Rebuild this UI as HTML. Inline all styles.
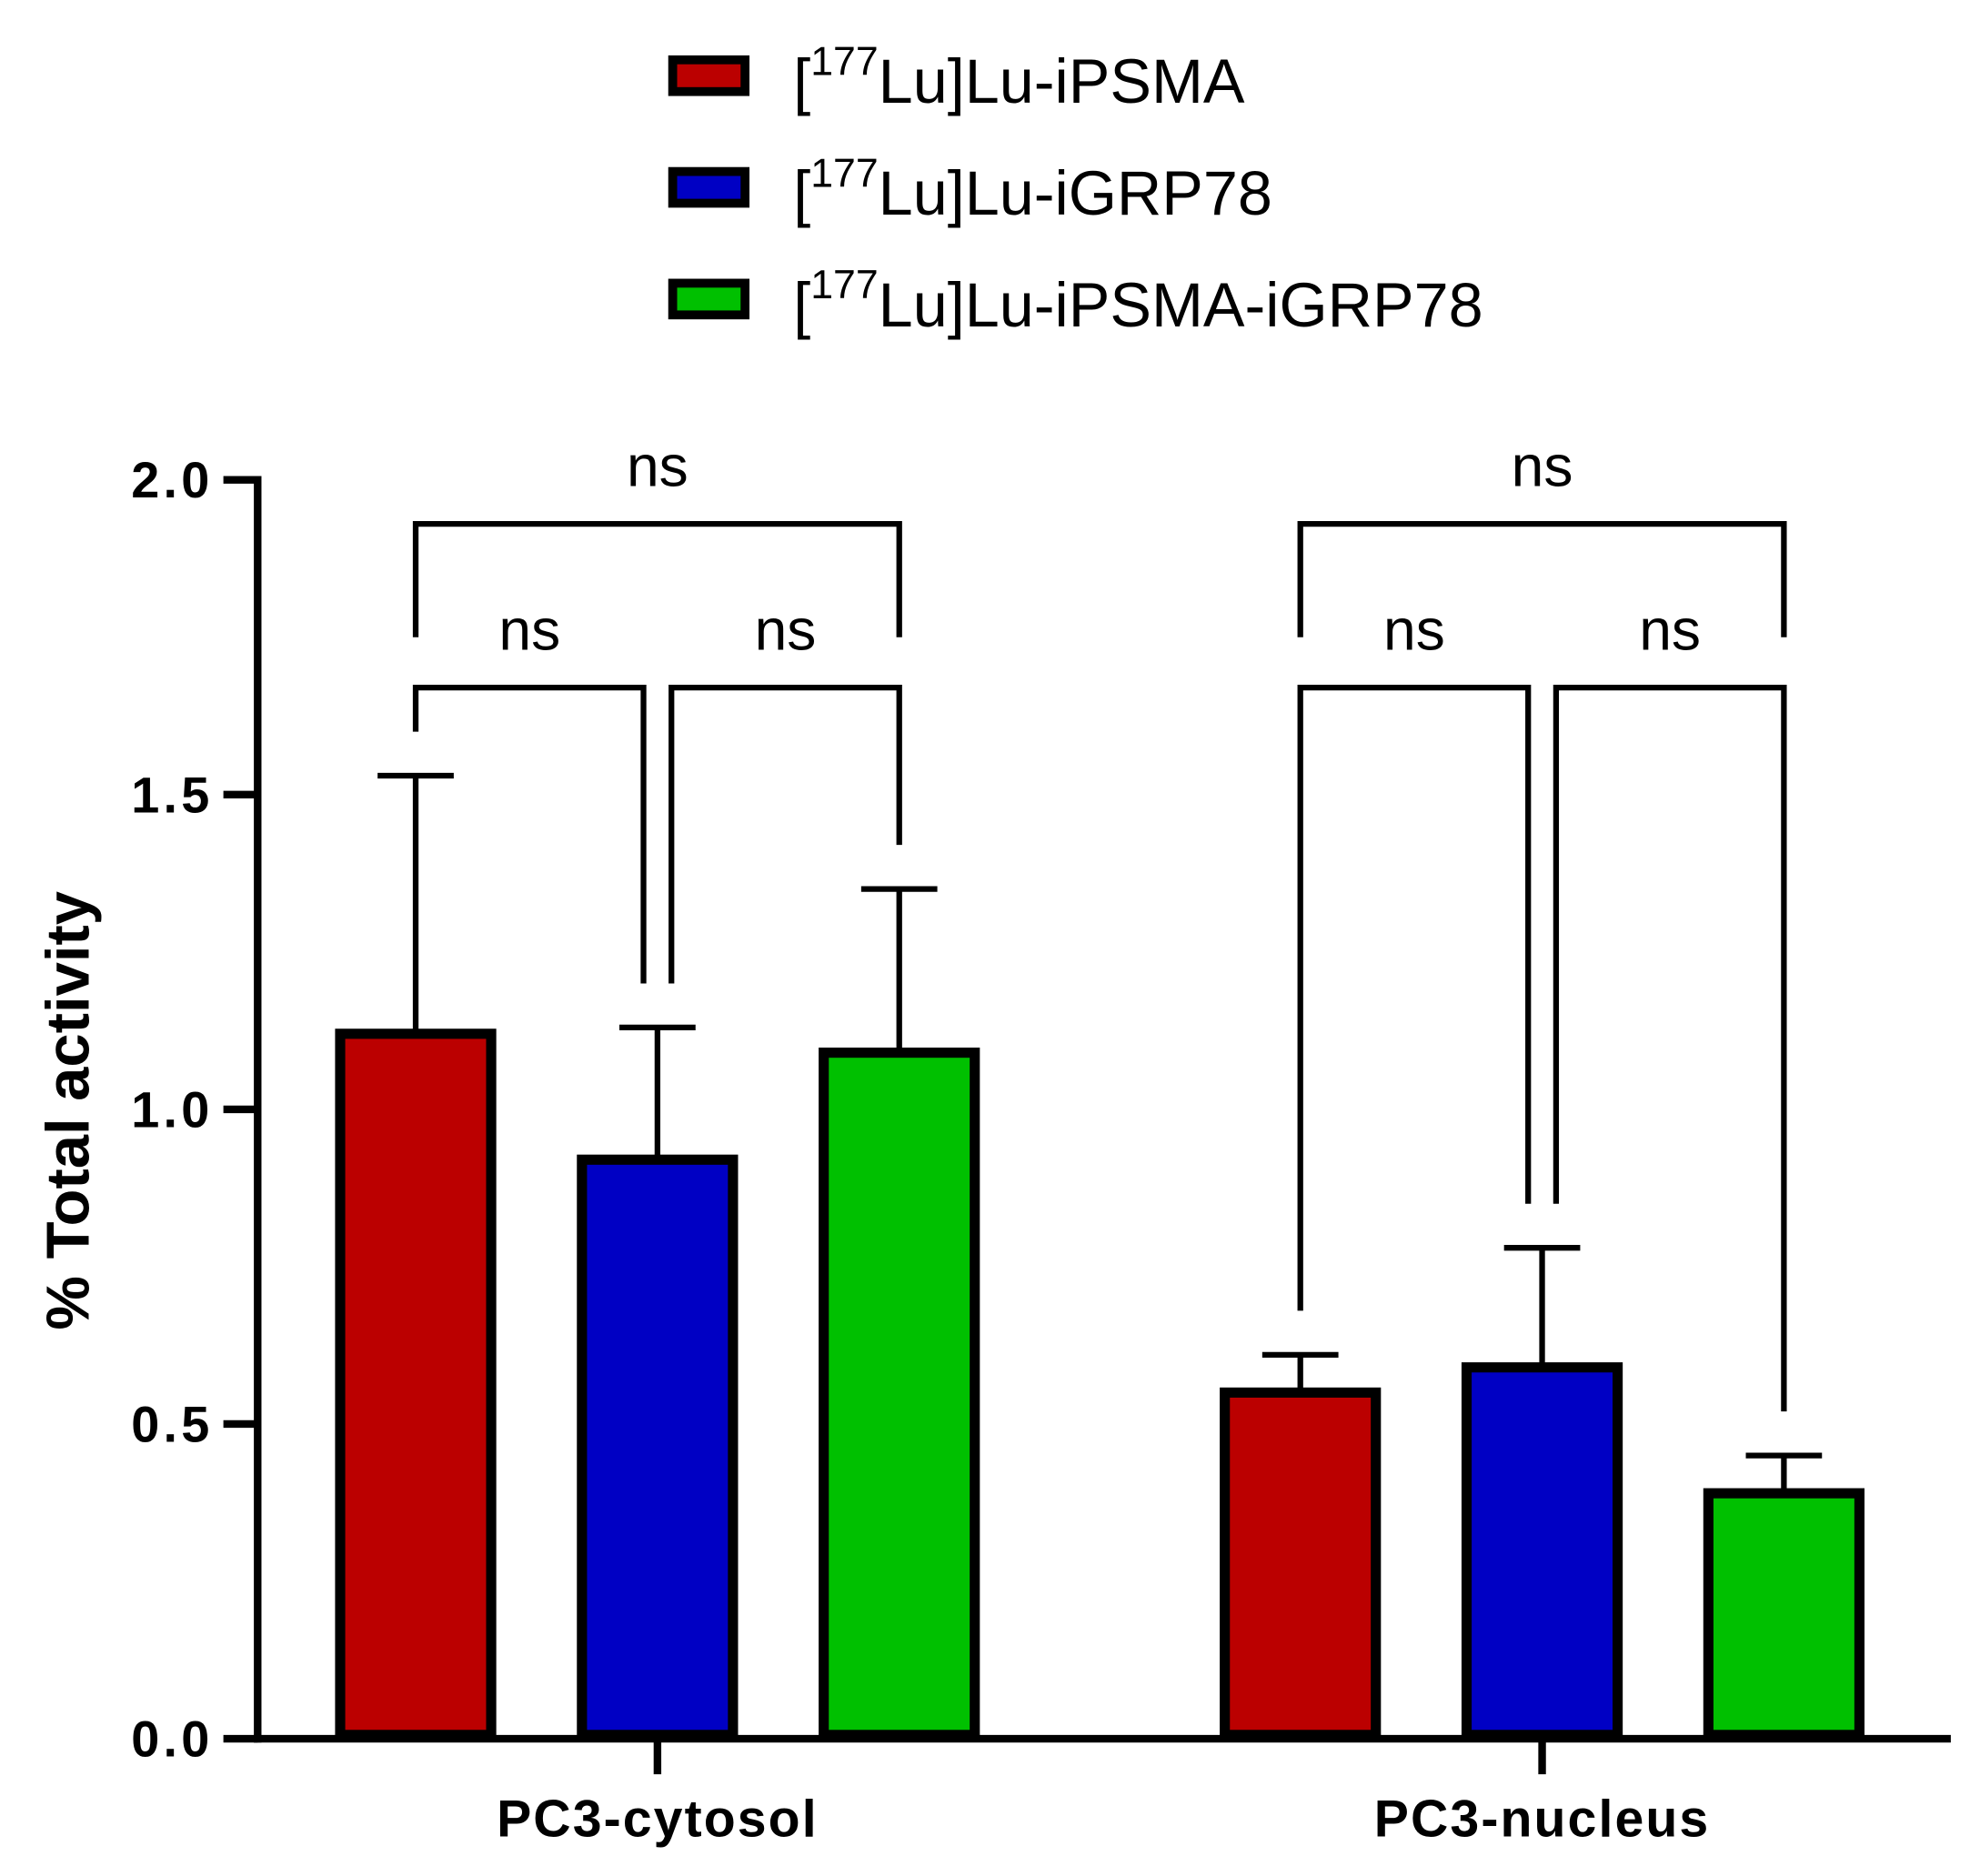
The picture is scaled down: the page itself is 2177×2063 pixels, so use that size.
<!DOCTYPE html>
<html><head><meta charset="utf-8"><style>
html,body{margin:0;padding:0;background:#fff}
svg{display:block}
text{font-family:"Liberation Sans",Arial,sans-serif}
</style></head><body>
<svg id="chart" width="2177" height="2063" viewBox="0 0 1560 1478" xmlns="http://www.w3.org/2000/svg">
<g id="legend"></g>
<g id="axes"></g>
<g id="bars"></g>
<g id="sig"></g>
</svg>
<script>
const categories = ["PC3-cytosol", "PC3-nucleus"];
const seriesNames = ["iPSMA", "iGRP78", "iPSMA-iGRP78"];
const seriesColors = ["#bb0000", "#0000c4", "#00c000"];
const meanPSMA = [1.12, 0.55];
const meanGRP = [0.92, 0.59];
const meanDual = [1.09, 0.39];
const errPSMA = [0.41, 0.06];
const errGRP = [0.21, 0.19];
const errDual = [0.26, 0.06];
const yTicks = [0, 0.5, 1.0, 1.5, 2.0];
const yTickLabels = ["0.0", "0.5", "1.0", "1.5", "2.0"];
// brackets: [group, seriesA, seriesB, level, legA value, legB value]
const brackets = [
  [0, 0, 2, 1.93, 1.75, 1.75],
  [0, 0, 1, 1.67, 1.60, 1.20],
  [0, 1, 2, 1.67, 1.20, 1.42],
  [1, 0, 2, 1.93, 1.75, 1.75],
  [1, 0, 1, 1.67, 0.68, 0.85],
  [1, 1, 2, 1.67, 0.85, 0.52]
];

const NS = "http://www.w3.org/2000/svg";
const X0 = 203, X1 = 1537, Y0 = 1370, Ytop = 378;
const y = v => Y0 - (v / 2.0) * (Y0 - Ytop);
const groupCenter = [518, 1215];
const barStep = 190.5, barW = 119;
const barX = (g, s) => groupCenter[g] + (s - 1) * barStep;
function el(tag, attrs, parent, txt) {
  const e = document.createElementNS(NS, tag);
  for (const k in attrs) e.setAttribute(k, attrs[k]);
  if (txt !== undefined) e.textContent = txt;
  parent.appendChild(e);
  return e;
}
const legend = document.getElementById('legend');
const axes = document.getElementById('axes');
const bars = document.getElementById('bars');
const sig = document.getElementById('sig');

seriesNames.forEach((n, i) => {
  const yy = 45 + i * 88;
  const r = el('rect', {x: 530, y: yy + 2, width: 57, height: 25, fill: seriesColors[i], stroke: '#000', 'stroke-width': 7}, legend);
  
  
  const t = el('text', {x: 625, y: yy + 36, 'font-size': 49}, legend);
  
  
  el('tspan', {}, t, '[');
  el('tspan', {dy: -22, 'font-size': 32}, t, '177');
  el('tspan', {dy: 22}, t, 'Lu]Lu-' + n);
});

// axes
let a = el('line', {x1: X0, y1: Ytop - 3, x2: X0, y2: Y0 + 3, stroke: '#000', 'stroke-width': 6}, axes);
 
a = el('line', {x1: X0 - 3, y1: Y0, x2: X1, y2: Y0, stroke: '#000', 'stroke-width': 6}, axes);
 
yTicks.forEach((v, i) => {
  const l = el('line', {x1: X0 - 27, y1: y(v), x2: X0, y2: y(v), stroke: '#000', 'stroke-width': 6}, axes);
   
  const t = el('text', {x: 168, y: y(v) + 14, 'font-size': 40, 'font-weight': 'bold', 'text-anchor': 'end', 'letter-spacing': 3}, axes, yTickLabels[i]);
   
});
categories.forEach((c, g) => {
  const l = el('line', {x1: groupCenter[g], y1: Y0, x2: groupCenter[g], y2: Y0 + 28, stroke: '#000', 'stroke-width': 6}, axes);
   
  const t = el('text', {x: groupCenter[g], y: 1447, 'font-size': 41, 'font-weight': 'bold', 'text-anchor': 'middle', 'letter-spacing': 1.5}, axes, c);
   
});
const yl = el('text', {x: 0, y: 0, transform: 'translate(70,875) rotate(-90)', 'font-size': 48, 'font-weight': 'bold', 'text-anchor': 'middle'}, axes, '% Total activity');
 

// bars
const means = [meanPSMA, meanGRP, meanDual];
const errs = [errPSMA, errGRP, errDual];
categories.forEach((c, g) => {
  means.forEach((m, s) => {
    const cx = barX(g, s), top = y(m[g]), et = y(m[g] + errs[s][g]);
    const e1 = el('line', {x1: cx, y1: top, x2: cx, y2: et, stroke: '#000', 'stroke-width': 4.5}, bars);
     
    const e2 = el('line', {x1: cx - 30, y1: et, x2: cx + 30, y2: et, stroke: '#000', 'stroke-width': 4.5}, bars);
     
    const r = el('rect', {x: cx - barW / 2, y: top, width: barW, height: Y0 - top - 3, fill: seriesColors[s], stroke: '#000', 'stroke-width': 8}, bars);
    
    
  });
});

// significance brackets
brackets.forEach(b => {
  const [g, sa, sb, lvl, la, lb] = b;
  let xa = barX(g, sa), xb = barX(g, sb);
  if (sb - sa === 1) { if (sa === 1) xa += 11; else xb -= 11; }
  const yy = y(lvl);
  const p = el('path', {d: `M${xa},${y(la)} V${yy} H${xb} V${y(lb)}`, fill: 'none', stroke: '#000', 'stroke-width': 4.5}, sig);
   
  const t = el('text', {x: (xa + xb) / 2, y: yy - 30, 'font-size': 46, 'text-anchor': 'middle'}, sig, 'ns');
   
});
</script>
</body></html>
